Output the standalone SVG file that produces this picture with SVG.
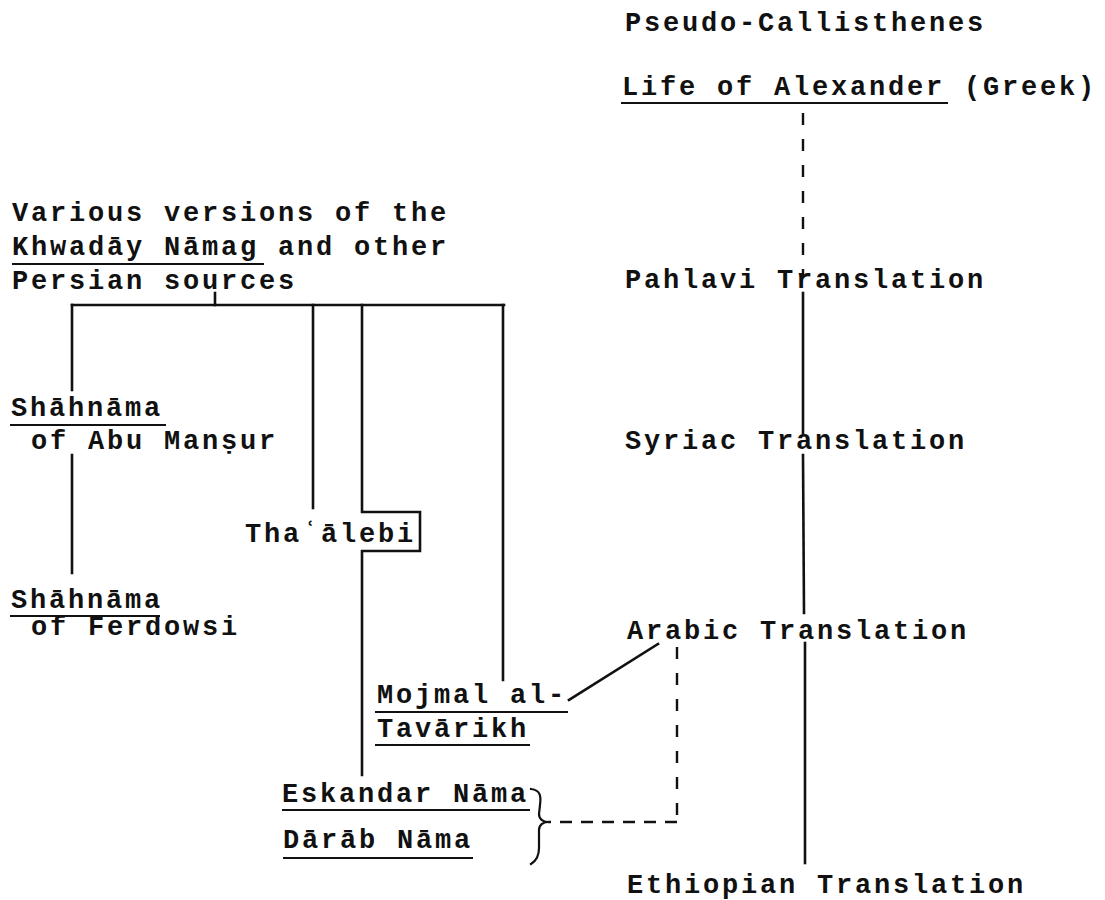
<svg xmlns="http://www.w3.org/2000/svg" width="1105" height="900" viewBox="0 0 1105 900">
<style>
text{font-family:"Liberation Mono","DejaVu Sans Mono",monospace;font-size:27px;letter-spacing:2.8px;fill:#111;font-weight:bold}
.ul{stroke:#111;stroke-width:2.2;fill:none}
.ln{stroke:#111;stroke-width:2.6;fill:none;stroke-linecap:square}
.dv{stroke:#111;stroke-width:2.4;fill:none;stroke-dasharray:12 14}
.dh{stroke:#111;stroke-width:2.4;fill:none;stroke-dasharray:12 9}
</style>
<rect width="1105" height="900" fill="#fff"/>
<g id="connectors">
<line class="ln" x1="215" y1="293" x2="215" y2="305"/>
<line class="ln" x1="72" y1="305" x2="504" y2="305"/>
<line class="ln" x1="72" y1="305" x2="72" y2="390"/>
<line class="ln" x1="72" y1="455" x2="72" y2="573"/>
<line class="ln" x1="313" y1="305" x2="313" y2="508"/>
<path class="ln" d="M362,305 V512 H420 V551 H362 V775"/>
<line class="ln" x1="503" y1="305" x2="503" y2="680"/>
<line class="ln" x1="658" y1="644" x2="569" y2="700"/>
<path class="dv" d="M677,647 V822"/>
<path class="dh" d="M677,822 H548"/>
<line class="dv" x1="803" y1="113" x2="803" y2="278"/>
<line class="ln" x1="803" y1="293" x2="803" y2="433"/>
<line class="ln" x1="803" y1="455" x2="804" y2="613"/>
<line class="ln" x1="805" y1="643" x2="805" y2="863"/>
<path class="ln" style="stroke-width:2.2" d="M531,789 C541,790 541,797 540,805 L539,814 C539,819 543,822 548,822 C543,822 539,825 539,830 L539,848 C539,856 536,861 531,864"/>
</g>
<g id="pseudo"><text x="625" y="31">Pseudo-Callisthenes</text></g>
<g id="life"><text x="622" y="95">Life of Alexander (Greek)</text><line class="ul" x1="621" y1="103" x2="948" y2="103"/></g>
<g id="pahlavi"><text x="625" y="288">Pahlavi Translation</text></g>
<g id="syriac"><text x="625" y="449">Syriac Translation</text></g>
<g id="arabic"><text x="627" y="639">Arabic Translation</text></g>
<g id="ethiopian"><text x="627" y="893">Ethiopian Translation</text></g>
<g id="persian">
<text x="12" y="221">Various versions of the</text>
<text x="12" y="255">Khwadāy Nāmag and other</text>
<text x="12" y="289">Persian sources</text>
<line class="ul" x1="12" y1="264" x2="264" y2="264"/>
</g>
<g id="shahnama-abu-mansur">
<text x="11" y="416">Shāhnāma</text>
<line class="ul" x1="10" y1="425" x2="166" y2="425"/>
<text x="31" y="449">of Abu Manṣur</text>
</g>
<g id="shahnama-ferdowsi">
<text x="11" y="608">Shāhnāma</text>
<line class="ul" x1="10" y1="616" x2="160" y2="616"/>
<text x="31" y="635">of Ferdowsi</text>
</g>
<g id="thaalebi"><text x="245" y="542">Thaʿālebi</text></g>
<g id="mojmal">
<text x="377" y="703">Mojmal al-</text>
<line class="ul" x1="375" y1="712" x2="568" y2="712"/>
<text x="377" y="737">Tavārikh</text>
<line class="ul" x1="375" y1="745" x2="530" y2="745"/>
</g>
<g id="eskandar"><text x="282" y="802">Eskandar Nāma</text><line class="ul" x1="282" y1="810" x2="530" y2="810"/></g>
<g id="darab"><text x="283" y="848">Dārāb Nāma</text><line class="ul" x1="283" y1="858" x2="473" y2="858"/></g>
</svg>
